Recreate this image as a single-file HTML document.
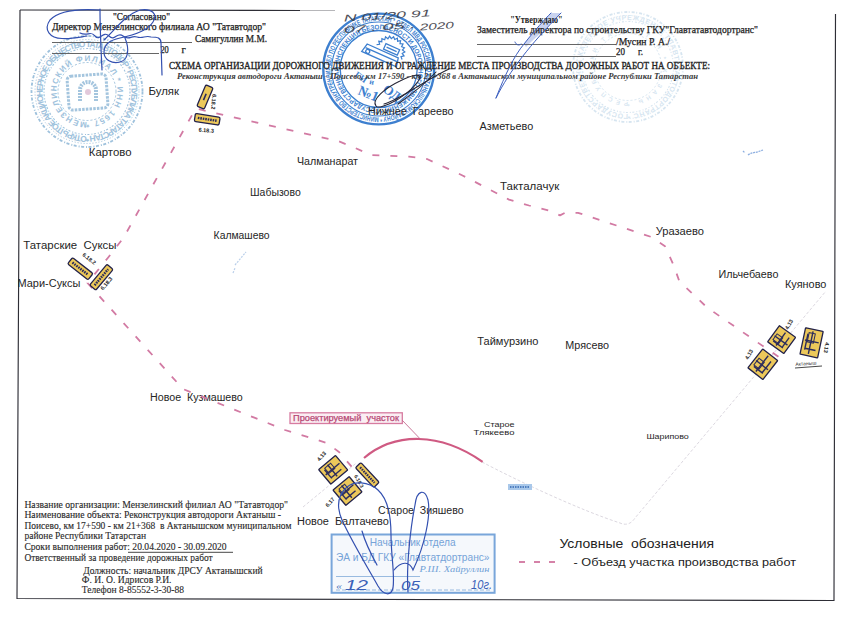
<!DOCTYPE html>
<html><head><meta charset="utf-8"><style>
html,body{margin:0;padding:0;background:#fff;width:850px;height:618px;overflow:hidden}
svg{display:block}
</style></head><body>
<svg width="850" height="618" viewBox="0 0 850 618">
<rect width="850" height="618" fill="#ffffff"/>
<g opacity="0.8">
<defs><path id="fs1a" d="M 87 136.0 A 44.5 44.5 0 1 1 87.01 136.0"/><path id="fs2a" d="M 87 122.0 A 30.5 30.5 0 1 1 87.01 122.0"/></defs>
<g fill="none" stroke="#86b2d4">
<circle cx="87" cy="91.5" r="55.5" stroke-width="1.8" stroke-dasharray="3 1.5 1 2"/>
<circle cx="87" cy="91.5" r="52.0" stroke-width="1" stroke-dasharray="1 2"/>
<circle cx="87" cy="91.5" r="43.0" stroke-width="1.1" stroke-dasharray="2 1.5 1 2"/>
<circle cx="87" cy="91.5" r="29.0" stroke-width="1" stroke-dasharray="2 2"/>
</g>
<text font-size="8.5" font-family='"Liberation Sans", sans-serif' font-weight="bold" fill="#86b2d4"><textPath href="#fs1a" textLength="280" lengthAdjust="spacing">ОТКРЫТОЕ АКЦИОНЕРНОЕ ОБЩЕСТВО ТАТАВТОДОР * РЕСПУБЛИКА ТАТАРСТАН *</textPath></text>
<text font-size="8" font-family='"Liberation Sans", sans-serif' font-weight="bold" fill="#86b2d4"><textPath href="#fs2a" textLength="192" lengthAdjust="spacing">МЕНЗЕЛИНСКИЙ ФИЛИАЛ * ИНН 1657 *</textPath></text>
</g>
<g opacity="0.75" fill="none" stroke="#86b2d4"><rect x="68" y="75" width="39" height="34" rx="4" stroke-width="3" stroke-dasharray="2.5 1.2" transform="rotate(-4 88 92)"/><path d="M80 101 L80 90 A 8 8 0 0 1 96 90 L96 101" stroke-width="4" stroke-dasharray="2 1"/><circle cx="88" cy="92" r="3" fill="#d9b8cf" stroke="none"/></g>
<g opacity="0.33">
<defs><path id="fs1b" d="M 628 114 A 47 47 0 1 1 628.01 114"/><path id="fs2b" d="M 628 102 A 35 35 0 1 1 628.01 102"/></defs>
<g fill="none" stroke="#86b2d4">
<circle cx="628" cy="67" r="55" stroke-width="1.8" stroke-dasharray="3 1.5 1 2"/>
<circle cx="628" cy="67" r="51.5" stroke-width="1" stroke-dasharray="1 2"/>
<circle cx="628" cy="67" r="45.5" stroke-width="1.1" stroke-dasharray="2 1.5 1 2"/>
<circle cx="628" cy="67" r="33.5" stroke-width="1" stroke-dasharray="2 2"/>
</g>
<text font-size="7" font-family='"Liberation Sans", sans-serif' font-weight="bold" fill="#86b2d4"><textPath href="#fs1b" textLength="295" lengthAdjust="spacing">ГОСУДАРСТВЕННОЕ КАЗЕННОЕ УЧРЕЖДЕНИЕ ГЛАВТАТАВТОДОРТРАНС *</textPath></text>
<text font-size="6" font-family='"Liberation Sans", sans-serif' font-weight="bold" fill="#86b2d4"><textPath href="#fs2b" textLength="220" lengthAdjust="spacing">РЕСПУБЛИКИ ТАТАРСТАН * КАЗАНЬ *</textPath></text>
</g>
<g fill="none" stroke="#7fa8d8" stroke-width="1.2" opacity="0.55"><path d="M233 273 L235 268 M235 265 L246 252" stroke-dasharray="2 1.2"/></g>
<g fill="none" stroke="#6f9ad8" stroke-width="1.3" opacity="0.8"><path d="M743 151 L745 153 M748 155 C 752 152, 756 153, 760 151 L763 150" stroke-dasharray="2 0.8"/></g>
<g fill="none" stroke="#3d7fcf">
<circle cx="378.7" cy="69" r="55.4" stroke-width="2.4"/>
<circle cx="378.7" cy="69" r="47" stroke-width="1.1"/>
<circle cx="378.7" cy="69" r="38.5" stroke-width="1.3"/>
</g>
<defs>
<path id="ring1" d="M 378.7 117.1 A 48.1 48.1 0 1 1 378.71 117.1"/>
<path id="ring2" d="M 378.7 108.7 A 39.7 39.7 0 1 1 378.71 108.7"/>
</defs>
<text font-size="7.2" font-family='"Liberation Sans", sans-serif' fill="#3d7fcf" font-weight="bold"><textPath href="#ring1" textLength="300" lengthAdjust="spacingAndGlyphs">МИНИСТЕРСТВО ВНУТРЕННИХ ДЕЛ ПО РЕСПУБЛИКЕ ТАТАРСТАН * ОТДЕЛ МВД РОССИИ ПО АКТАНЫШСКОМУ РАЙОНУ *</textPath></text>
<text font-size="6.8" font-family='"Liberation Sans", sans-serif' fill="#3d7fcf" font-weight="bold"><textPath href="#ring2" textLength="247" lengthAdjust="spacingAndGlyphs">ГОСУДАРСТВЕННАЯ ИНСПЕКЦИЯ БЕЗОПАСНОСТИ ДОРОЖНОГО ДВИЖЕНИЯ *</textPath></text>
<path d="M376.6 44.7 L379.6 44.3 L378.8 41.3 L381.8 41.7 L381.9 38.6 L384.7 39.8 L385.5 36.9 L387.9 38.8 L389.6 36.2 L391.3 38.7 L393.6 36.7 L394.7 39.5 L397.4 38.2 L397.6 41.2 L400.6 40.7 L400.0 43.7 L403.0 44.0 L401.6 46.7 L404.4 47.8 L402.4 50.0 L404.8 51.9 L402.2 53.4 L404.0 55.9 L401.0 56.6 L402.1 59.5" fill="none" stroke="#3d7fcf" stroke-width="1.2"/>
<g fill="none" stroke="#3d7fcf" stroke-width="1.3" transform="rotate(24 382 55)">
<path d="M364 51 L398 51 L400 60 L362 60 Z"/>
<path d="M364 55 L399 55"/>
<circle cx="367.5" cy="57.5" r="2"/>
<rect x="381" y="43" width="15" height="6"/>
<path d="M383 46 L394 46"/>
</g>
<text x="0" y="0" font-size="9" font-family='"Liberation Serif", serif' font-weight="bold" fill="#3d7fcf" transform="translate(354 76) rotate(35)">ГИ</text>
<text x="0" y="0" font-size="8" font-family='"Liberation Serif", serif' font-weight="bold" fill="#3d7fcf" transform="translate(369 84) rotate(10)">и</text>
<text x="0" y="0" font-size="13" font-family='"Liberation Serif", serif' font-weight="bold" fill="#3d7fcf" transform="translate(382 91) rotate(35)">ОД</text>
<text x="0" y="0" font-size="14" font-family='"Liberation Serif", serif' font-weight="bold" fill="#3d7fcf" transform="translate(357 94) rotate(22)">№1</text>
<path d="M524 44 C 535 30, 545 19, 551 13 L 561 13 C 548 27, 535 38, 526 47 Z" fill="#c9d3f0" stroke="none"/>
<g stroke="#2e2e36" stroke-width="1.15" fill="none">
<path d="M20 10 L300 10.5"/>
<path d="M300 10.5 L335 10.5" stroke-opacity="0.35"/>
<path d="M20 10 L17 598.5 L834 600.5 L835.5 14"/>
</g>
<text x="113" y="19.6" font-size="9.5" font-family='"Liberation Serif", serif' fill="#222" textLength="57" lengthAdjust="spacingAndGlyphs" stroke="#222" stroke-width="0.25" >"Согласовано"</text>
<text x="52" y="30.2" font-size="9.5" font-family='"Liberation Serif", serif' fill="#222" textLength="214" lengthAdjust="spacingAndGlyphs" stroke="#222" stroke-width="0.25" >Директор Мензелинского филиала АО "Татавтодор"</text>
<text x="195" y="42" font-size="9.5" font-family='"Liberation Serif", serif' fill="#222" textLength="72" lengthAdjust="spacingAndGlyphs" stroke="#222" stroke-width="0.25" >Самигуллин М.М.</text>
<path d="M52 42.5 L192 42.5 M52 53.5 L159 53.5" stroke="#555" stroke-width="0.9"/>
<text x="160.4" y="53" font-size="9.5" font-family='"Liberation Serif", serif' fill="#222" textLength="8.4" lengthAdjust="spacingAndGlyphs" stroke="#222" stroke-width="0.25" >20</text>
<text x="181.5" y="53" font-size="9.5" font-family='"Liberation Serif", serif' fill="#222" textLength="4.3" lengthAdjust="spacingAndGlyphs" stroke="#222" stroke-width="0.25" >г</text>
<text x="510.2" y="23.2" font-size="9.5" font-family='"Liberation Serif", serif' fill="#222" textLength="52.4" lengthAdjust="spacingAndGlyphs" font-weight="bold">"Утверждаю"</text>
<text x="477" y="33" font-size="9.5" font-family='"Liberation Serif", serif' fill="#222" textLength="281" lengthAdjust="spacingAndGlyphs" stroke="#222" stroke-width="0.25" >Заместитель директора по строительству ГКУ"Главтатавтодортранс"</text>
<path d="M477 44.5 L616 44.5 M477 56.5 L616 56.5" stroke="#555" stroke-width="0.9"/>
<text x="616" y="44.5" font-size="9.5" font-family='"Liberation Serif", serif' fill="#222" textLength="54" lengthAdjust="spacingAndGlyphs" stroke="#222" stroke-width="0.25" >/Мусин Р. А./</text>
<text x="616" y="55" font-size="9.5" font-family='"Liberation Serif", serif' fill="#222" textLength="9" lengthAdjust="spacingAndGlyphs" stroke="#222" stroke-width="0.25" >20</text>
<text x="638" y="55" font-size="9.5" font-family='"Liberation Serif", serif' fill="#222" textLength="5" lengthAdjust="spacingAndGlyphs" stroke="#222" stroke-width="0.25" >г.</text>
<text x="169" y="68.9" font-size="9.5" font-family='"Liberation Serif", serif' fill="#222" textLength="541" lengthAdjust="spacingAndGlyphs" stroke="#222" stroke-width="0.3" >СХЕМА ОРГАНИЗАЦИИ ДОРОЖНОГО ДВИЖЕНИЯ И ОГРАЖДЕНИЕ МЕСТА ПРОИЗВОДСТВА ДОРОЖНЫХ РАБОТ НА ОБЪЕКТЕ:</text>
<text x="177" y="78.8" font-size="8.5" font-family='"Liberation Serif", serif' fill="#3a3a3a" textLength="521" lengthAdjust="spacingAndGlyphs" font-style="italic" font-weight="bold">Реконструкция автодороги Актаныш - Поисево, км 17+590 - км 21+368 в Актанышском муниципальном районе Республики Татарстан</text>
<text x="24.4" y="507.7" font-size="10" font-family='"Liberation Serif", serif' fill="#2a2a2a" textLength="263.6" lengthAdjust="spacingAndGlyphs" stroke="#2a2a2a" stroke-width="0.12" >Название организации: Мензелинский филиал АО "Татавтодор"</text>
<text x="24.4" y="518" font-size="10" font-family='"Liberation Serif", serif' fill="#2a2a2a" textLength="256.6" lengthAdjust="spacingAndGlyphs" stroke="#2a2a2a" stroke-width="0.12" >Наименование объекта: Реконструкция автодороги Актаныш -</text>
<text x="24.4" y="528.5" font-size="10" font-family='"Liberation Serif", serif' fill="#2a2a2a" textLength="267" lengthAdjust="spacingAndGlyphs" stroke="#2a2a2a" stroke-width="0.12" >Поисево, км 17+590 - км 21+368&#160; в Актанышском муниципальном</text>
<text x="24.4" y="539.1" font-size="10" font-family='"Liberation Serif", serif' fill="#2a2a2a" textLength="121.6" lengthAdjust="spacingAndGlyphs" stroke="#2a2a2a" stroke-width="0.12" >районе Республики Татарстан</text>
<text x="24.4" y="550" font-size="10" font-family='"Liberation Serif", serif' fill="#2a2a2a" textLength="202.2" lengthAdjust="spacingAndGlyphs" stroke="#2a2a2a" stroke-width="0.12" >Сроки выполнения работ: 20.04.2020 - 30.09.2020</text>
<text x="24.4" y="561.2" font-size="10" font-family='"Liberation Serif", serif' fill="#2a2a2a" textLength="188.2" lengthAdjust="spacingAndGlyphs" stroke="#2a2a2a" stroke-width="0.12" >Ответственный за проведение дорожных работ</text>
<text x="83.2" y="573.5" font-size="10" font-family='"Liberation Serif", serif' fill="#2a2a2a" textLength="179.4" lengthAdjust="spacingAndGlyphs" stroke="#2a2a2a" stroke-width="0.12" >Должность: начальник ДРСУ Актанышский</text>
<text x="81.8" y="583" font-size="10" font-family='"Liberation Serif", serif' fill="#2a2a2a" textLength="89.7" lengthAdjust="spacingAndGlyphs" stroke="#2a2a2a" stroke-width="0.12" >Ф. И. О. Идрисов Р.И.</text>
<text x="81.8" y="592.6" font-size="10" font-family='"Liberation Serif", serif' fill="#2a2a2a" textLength="102.2" lengthAdjust="spacingAndGlyphs" stroke="#2a2a2a" stroke-width="0.12" >Телефон 8-85552-3-30-88</text>
<path d="M128 552.3 L233 552.3" stroke="#333" stroke-width="0.9"/>
<text x="148.5" y="94.5" font-size="10" font-family='"Liberation Sans", sans-serif' fill="#262626" textLength="30.5" lengthAdjust="spacingAndGlyphs" >Буляк</text>
<text x="88.8" y="156.2" font-size="10" font-family='"Liberation Sans", sans-serif' fill="#262626" textLength="42.7" lengthAdjust="spacingAndGlyphs" >Картово</text>
<text x="367.9" y="114.8" font-size="10" font-family='"Liberation Sans", sans-serif' fill="#262626" textLength="85.6" lengthAdjust="spacingAndGlyphs" >Нижнее&#160;&#160;Гареево</text>
<text x="479.5" y="130.4" font-size="10" font-family='"Liberation Sans", sans-serif' fill="#262626" textLength="53.7" lengthAdjust="spacingAndGlyphs" >Азметьево</text>
<text x="297" y="165.2" font-size="10" font-family='"Liberation Sans", sans-serif' fill="#262626" textLength="61" lengthAdjust="spacingAndGlyphs" >Чалманарат</text>
<text x="250" y="195.5" font-size="10" font-family='"Liberation Sans", sans-serif' fill="#262626" textLength="50.7" lengthAdjust="spacingAndGlyphs" >Шабызово</text>
<text x="500" y="189.5" font-size="10" font-family='"Liberation Sans", sans-serif' fill="#262626" textLength="59.2" lengthAdjust="spacingAndGlyphs" >Такталачук</text>
<text x="213.6" y="239" font-size="10" font-family='"Liberation Sans", sans-serif' fill="#262626" textLength="56" lengthAdjust="spacingAndGlyphs" >Калмашево</text>
<text x="655.7" y="235.3" font-size="10" font-family='"Liberation Sans", sans-serif' fill="#262626" textLength="48.3" lengthAdjust="spacingAndGlyphs" >Уразаево</text>
<text x="23.3" y="249" font-size="10" font-family='"Liberation Sans", sans-serif' fill="#262626" textLength="93.2" lengthAdjust="spacingAndGlyphs" >Татарские&#160;&#160;Суксы</text>
<text x="17.5" y="287" font-size="10" font-family='"Liberation Sans", sans-serif' fill="#262626" textLength="62.9" lengthAdjust="spacingAndGlyphs" >Мари-Суксы</text>
<text x="718.6" y="278.3" font-size="10" font-family='"Liberation Sans", sans-serif' fill="#262626" textLength="59.8" lengthAdjust="spacingAndGlyphs" >Ильчебаево</text>
<text x="785" y="287.6" font-size="10" font-family='"Liberation Sans", sans-serif' fill="#262626" textLength="41.4" lengthAdjust="spacingAndGlyphs" >Куяново</text>
<text x="477.3" y="344.5" font-size="10" font-family='"Liberation Sans", sans-serif' fill="#262626" textLength="61.2" lengthAdjust="spacingAndGlyphs" >Таймурзино</text>
<text x="565.3" y="348.7" font-size="10" font-family='"Liberation Sans", sans-serif' fill="#262626" textLength="43.7" lengthAdjust="spacingAndGlyphs" >Мрясево</text>
<text x="150" y="401" font-size="10" font-family='"Liberation Sans", sans-serif' fill="#262626" textLength="92.8" lengthAdjust="spacingAndGlyphs" >Новое&#160;&#160;Кузмашево</text>
<text x="378" y="514.1" font-size="10" font-family='"Liberation Sans", sans-serif' fill="#262626" textLength="85.6" lengthAdjust="spacingAndGlyphs" >Старое&#160;&#160;Зияшево</text>
<text x="297" y="525.4" font-size="10" font-family='"Liberation Sans", sans-serif' fill="#262626" textLength="91.8" lengthAdjust="spacingAndGlyphs" >Новое&#160;&#160;Балтачево</text>
<text x="484" y="426.5" font-size="7.3" font-family='"Liberation Sans", sans-serif' fill="#262626" textLength="30.5" lengthAdjust="spacingAndGlyphs" >Старое</text>
<text x="473.6" y="435" font-size="7.3" font-family='"Liberation Sans", sans-serif' fill="#262626" textLength="40.9" lengthAdjust="spacingAndGlyphs" >Тлякеево</text>
<text x="646.4" y="439.2" font-size="7.3" font-family='"Liberation Sans", sans-serif' fill="#262626" textLength="42.4" lengthAdjust="spacingAndGlyphs" >Шарипово</text>
<text x="559.4" y="548" font-size="13" font-family='"Liberation Sans", sans-serif' fill="#222" textLength="154.6" lengthAdjust="spacingAndGlyphs" >Условные&#160;&#160;обозначения</text>
<text x="573.6" y="565.6" font-size="10" font-family='"Liberation Sans", sans-serif' fill="#222" textLength="222.4" lengthAdjust="spacingAndGlyphs" >- Объезд участка производства работ</text>
<path d="M519 562 L563 562" stroke="#c85a8c" stroke-width="1.6" stroke-dasharray="6 9"/>
<g fill="none" stroke="#dcd8e0" stroke-width="1" stroke-dasharray="3 2">
<path d="M303 507 L357 462.5"/>
<path d="M482 462 C 520 482, 580 510, 620 523 Q 629 527, 635 518 L 826 291"/>
</g>
<path d="M351.6 466.7 L339 452 L327 443 L285 430 L183 389 L87.5 283 L108 257.7 L123.6 237.6 L195.7 108.5 L229.5 116.4 L302 132.9 L338 141 L354.7 147.7 L371 155 L409 156.6 L427 159 L463 175.7 L509 199.6 L529 205.5 L548.7 210.5 L560 215.4 L565 212.8 L578 212.8 L650.8 236.8 L665 246.2 L673.5 265 L679.3 281.2 L707 307.4 L782.7 359.8" fill="none" stroke="#d27aa3" stroke-width="1.8" stroke-dasharray="7 11" stroke-linejoin="round"/>
<path d="M364 458 C 395 432, 440 432, 482.6 461.8" fill="none" stroke="#cf5a82" stroke-width="2.2"/>
<rect x="290" y="412.8" width="112.3" height="10.7" fill="#fbeef3" stroke="#d77ba0" stroke-width="1.3"/>
<text x="293" y="421.3" font-size="8.5" font-family='"Liberation Sans", sans-serif' fill="#b84a76" textLength="106" lengthAdjust="spacingAndGlyphs" stroke="#b84a76" stroke-width="0.25" >Проектируемый&#160;&#160;участок</text>
<path d="M402 420 L419.6 438.3" stroke="#c46a8e" stroke-width="0.9"/>
<rect x="508" y="484" width="24" height="6" fill="#a9c8ea"/>
<path d="M510 487 L530 487" stroke="#4f7fc0" stroke-width="2" stroke-dasharray="1.5 1"/>
<g transform="translate(205 97) rotate(23)">
<rect x="-4.0" y="-11.5" width="8" height="23" rx="1.5" fill="#ecc85a" stroke="#23224a" stroke-width="1.3"/>
<path d="M-1.0 0 L1.0 0" stroke="#2a2a5a" stroke-width="6.8999999999999995" stroke-dasharray="1.6 0.9"/>
</g>
<text x="0" y="0" font-size="5.5" font-family='"Liberation Sans", sans-serif' font-weight="bold" fill="#222" transform="translate(212.5 94) rotate(95)">6.18.2</text>
<g transform="translate(207.2 119.3) rotate(9)">
<rect x="-12.5" y="-4.0" width="25" height="8" rx="1.5" fill="#ecc85a" stroke="#23224a" stroke-width="1.3"/>
<path d="M-9.5 0 L9.5 0" stroke="#2a2a5a" stroke-width="2.4" stroke-dasharray="1.6 0.9"/>
</g>
<text x="0" y="0" font-size="5.5" font-family='"Liberation Sans", sans-serif' font-weight="bold" fill="#222" transform="translate(198.5 131.5) rotate(5)">6.18.3</text>
<g transform="translate(80.3 268.7) rotate(38)">
<rect x="-13.0" y="-4.0" width="26" height="8" rx="1.5" fill="#ecc85a" stroke="#23224a" stroke-width="1.3"/>
<path d="M-10.0 0 L10.0 0" stroke="#2a2a5a" stroke-width="2.4" stroke-dasharray="1.6 0.9"/>
</g>
<text x="0" y="0" font-size="5.5" font-family='"Liberation Sans", sans-serif' font-weight="bold" fill="#222" transform="translate(82 255.5) rotate(38)">6.18.2</text>
<g transform="translate(101.4 277.2) rotate(-50)">
<rect x="-13.5" y="-4.0" width="27" height="8" rx="1.5" fill="#ecc85a" stroke="#23224a" stroke-width="1.3"/>
<path d="M-10.5 0 L10.5 0" stroke="#2a2a5a" stroke-width="2.4" stroke-dasharray="1.6 0.9"/>
</g>
<text x="0" y="0" font-size="5.5" font-family='"Liberation Sans", sans-serif' font-weight="bold" fill="#222" transform="translate(103 290.5) rotate(-50)">6.18.3</text>
<g transform="translate(333.2 469.8) rotate(-40)">
<rect x="-11.0" y="-9.5" width="22" height="19" rx="0.5" fill="#ecc85a" stroke="#23224a" stroke-width="1.3"/>
<path d="M-9.0 -0.9500000000000001 L9.0 -0.9500000000000001 M-1.1 -7.5 L-1.1 7.5 M-6.6 -5.7 L-6.6 5.7 M-6.6 4.75 L6.6 4.75" stroke="#2c2c5c" stroke-width="1.4" fill="none"/>
<rect x="-5.5" y="-6.6499999999999995" width="7.699999999999999" height="6.6499999999999995" fill="none" stroke="#2c2c5c" stroke-width="1"/>
</g>
<g transform="translate(347.5 491) rotate(-40)">
<rect x="-10.5" y="-10.0" width="21" height="20" rx="0.5" fill="#ecc85a" stroke="#23224a" stroke-width="1.3"/>
<path d="M-8.5 -1.0 L8.5 -1.0 M-1.05 -8.0 L-1.05 8.0 M-6.3 -6.0 L-6.3 6.0 M-6.3 5.0 L6.3 5.0" stroke="#2c2c5c" stroke-width="1.4" fill="none"/>
<rect x="-5.25" y="-7.0" width="7.35" height="7.0" fill="none" stroke="#2c2c5c" stroke-width="1"/>
</g>
<g transform="translate(367.3 475) rotate(47)">
<rect x="-13.5" y="-3.75" width="27" height="7.5" rx="1.5" fill="#ecc85a" stroke="#23224a" stroke-width="1.3"/>
<path d="M-10.5 0 L10.5 0" stroke="#2a2a5a" stroke-width="2.25" stroke-dasharray="1.6 0.9"/>
</g>
<text x="0" y="0" font-size="5.5" font-family='"Liberation Sans", sans-serif' font-weight="bold" fill="#222" transform="translate(319.5 461.5) rotate(-50)">4.13</text>
<text x="0" y="0" font-size="5.5" font-family='"Liberation Sans", sans-serif' font-weight="bold" fill="#222" transform="translate(328 507.5) rotate(-50)">6.17</text>
<text x="0" y="0" font-size="5" font-family='"Liberation Sans", sans-serif' font-weight="bold" fill="#222" transform="translate(354 476) rotate(60)">6.18.3</text>
<g transform="translate(781.6 339.6) rotate(-54)">
<rect x="-10.0" y="-10.0" width="20" height="20" rx="0.5" fill="#ecc85a" stroke="#23224a" stroke-width="1.3"/>
<path d="M-8.0 -1.0 L8.0 -1.0 M-1.0 -8.0 L-1.0 8.0 M-6.0 -6.0 L-6.0 6.0 M-6.0 5.0 L6.0 5.0" stroke="#2c2c5c" stroke-width="1.4" fill="none"/>
<rect x="-5.0" y="-7.0" width="7.0" height="7.0" fill="none" stroke="#2c2c5c" stroke-width="1"/>
</g>
<g transform="translate(762.8 364.2) rotate(-52)">
<rect x="-12.0" y="-9.5" width="24" height="19" rx="0.5" fill="#ecc85a" stroke="#23224a" stroke-width="1.3"/>
<path d="M-10.0 -0.9500000000000001 L10.0 -0.9500000000000001 M-1.2000000000000002 -7.5 L-1.2000000000000002 7.5 M-7.199999999999999 -5.7 L-7.199999999999999 5.7 M-7.199999999999999 4.75 L7.199999999999999 4.75" stroke="#2c2c5c" stroke-width="1.4" fill="none"/>
<rect x="-6.0" y="-6.6499999999999995" width="8.399999999999999" height="6.6499999999999995" fill="none" stroke="#2c2c5c" stroke-width="1"/>
</g>
<g transform="translate(811.6 342.8) rotate(12)">
<rect x="-9.0" y="-13.5" width="18" height="27" rx="0.5" fill="#ecc85a" stroke="#23224a" stroke-width="1.3"/>
<path d="M-7.0 -1.35 L7.0 -1.35 M-0.9 -11.5 L-0.9 11.5 M-5.3999999999999995 -8.1 L-5.3999999999999995 8.1 M-5.3999999999999995 6.75 L5.3999999999999995 6.75" stroke="#2c2c5c" stroke-width="1.4" fill="none"/>
<rect x="-4.5" y="-9.45" width="6.3" height="9.45" fill="none" stroke="#2c2c5c" stroke-width="1"/>
</g>
<text x="0" y="0" font-size="5.5" font-family='"Liberation Sans", sans-serif' font-weight="bold" fill="#222" transform="translate(788 330) rotate(-60)">4.13</text>
<text x="0" y="0" font-size="5.5" font-family='"Liberation Sans", sans-serif' font-weight="bold" fill="#222" transform="translate(748 360) rotate(-60)">4.13</text>
<text x="0" y="0" font-size="5.5" font-family='"Liberation Sans", sans-serif' font-weight="bold" fill="#222" transform="translate(825.5 342) rotate(100)">4.13</text>
<text x="0" y="0" font-size="5" font-family='"Liberation Sans", sans-serif' fill="#333" transform="translate(795.5 366) rotate(-4)">Актаныш</text>
<path d="M795 368 L822 366" stroke="#333" stroke-width="0.9"/>
<g font-family='"Liberation Sans", sans-serif' font-style="italic" fill="#3c3c46" opacity="0.9">
<text x="344" y="21.5" font-size="9.5" transform="rotate(-3.5 344 21.5)" textLength="87" lengthAdjust="spacingAndGlyphs">N 01/20 91</text>
<text x="344" y="33" font-size="9" transform="rotate(-4 344 33)" textLength="72" lengthAdjust="spacingAndGlyphs">07 . 05 .</text>
<text x="420" y="30.5" font-size="9.5" transform="rotate(-4 420 30.5)" textLength="34" lengthAdjust="spacingAndGlyphs">2020</text>
</g>
<rect x="331.6" y="534.5" width="163" height="58.3" fill="#f1f5fb" fill-opacity="0.7" stroke="#79a6da" stroke-width="2"/>
<text x="369.8" y="545.5" font-size="10.5" font-family='"Liberation Sans", sans-serif' fill="#76a3d8" textLength="85.8" lengthAdjust="spacingAndGlyphs" >Начальник отдела</text>
<text x="335.9" y="560.5" font-size="10.5" font-family='"Liberation Sans", sans-serif' fill="#76a3d8" textLength="153.6" lengthAdjust="spacingAndGlyphs" >ЭА и БД ГКУ «Главтатдортранс»</text>
<text x="419.6" y="571.6" font-size="9" font-family='"Liberation Serif", serif' fill="#6f9fd6" textLength="69.9" lengthAdjust="spacingAndGlyphs" font-style="italic">Р.Ш. Хайруллин</text>
<path d="M336 576.5 L420 576.5" stroke="#8fb3dc" stroke-width="0.9"/>
<path d="M336 590 L492 590" stroke="#8fb3dc" stroke-width="0.9" stroke-dasharray="4 2"/>
<text x="336" y="589" font-size="10" font-family='"Liberation Serif", serif' fill="#4f78c0" textLength="6" lengthAdjust="spacingAndGlyphs" font-style="italic">«</text>
<text x="345" y="589.5" font-size="14" font-family='"Liberation Sans", sans-serif' fill="#3a60b8" textLength="23" lengthAdjust="spacingAndGlyphs" font-style="italic">12</text>
<text x="401" y="589.5" font-size="13" font-family='"Liberation Sans", sans-serif' fill="#3a60b8" textLength="19" lengthAdjust="spacingAndGlyphs" font-style="italic">05</text>
<text x="471" y="589" font-size="12" font-family='"Liberation Sans", sans-serif' fill="#3a60b8" textLength="21" lengthAdjust="spacingAndGlyphs" font-style="italic">10г.</text>
<g fill="none" stroke="#3350b0" stroke-width="1.2" stroke-linecap="round">
<path d="M100 10 C 85 9, 60 9, 50 20 C 43 30, 50 38, 62 38.5 C 72 39, 80 37, 87 36"/>
<path d="M100 9 C 100 30, 101 50, 102 70"/>
<path d="M104 40 C 115 30, 125 15, 140 10 C 152 8, 158 14, 153 22 C 148 30, 135 35, 120 38 C 110 40, 104 44, 104 52 C 104 60, 112 64, 120 62 C 128 60, 130 50, 125 38"/>
<path d="M80 33 C 88 37, 90 30, 95 36 S 103 30, 109 36 S 117 31, 123 36 S 131 35, 137 37 S 145 35, 151 37 C 158 37, 161 38, 161 43 L 162 75"/>
<path d="M496 98 C 505 75, 514 56, 524 44 C 535 30, 545 19, 551 13 M496 98 C 510 70, 530 45, 561 13 M515 42 C 516 45, 519 46, 521 44" stroke="#3d5fc0" stroke-width="1"/>
<path d="M347 487 C 354 481, 368 481, 378 490 C 388 499, 391 515, 391 535 C 391 555, 395 575, 393 588 C 391 596, 384 596, 378 586 C 368 568, 352 542, 342 520 C 336 506, 338 495, 347 487"/>
<path d="M394 570 C 402 560, 410 562, 413 570 C 425 545, 431 515, 428 500 C 425 489, 417 489, 415 505 C 411 525, 406 565, 408 592"/>
<path d="M362 531 C 366 545, 372 556, 377 565"/>
</g>
<g fill="none" stroke="#262636" stroke-width="1.1" stroke-linecap="round">
<path d="M376 106 C 371 100, 385 88, 400 81 C 412 75, 423 72, 419 80 C 414 88, 401 99, 389 104 C 382 107, 377 108, 376 106"/>
<path d="M384 104 C 400 100, 425 80, 449 69"/>
<path d="M398 104 C 412 94, 425 84, 436 72"/>
</g>
</svg>
</body></html>
